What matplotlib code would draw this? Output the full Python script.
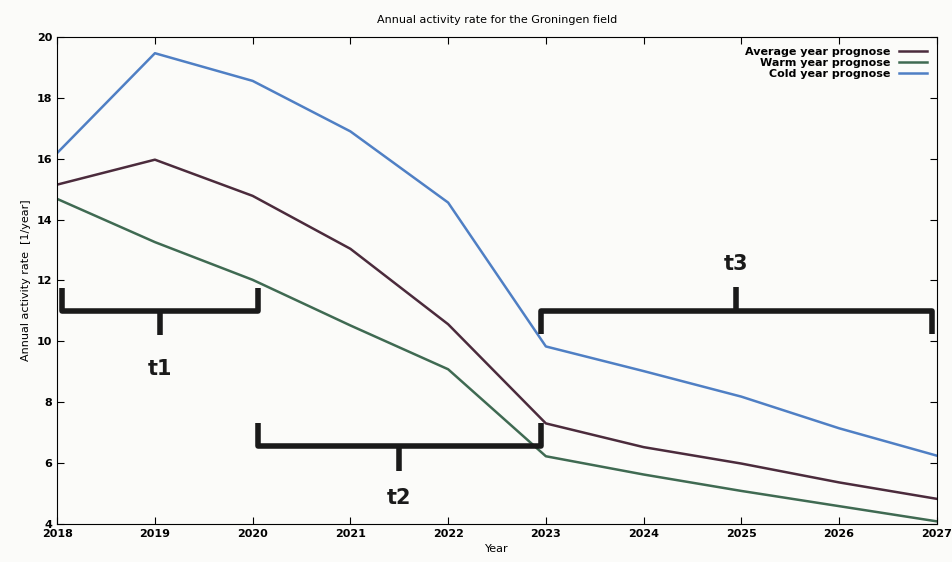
import matplotlib.pyplot as plt

years = [2018, 2019, 2020, 2021, 2022, 2023, 2024, 2025, 2026, 2027]
average = [15.15, 15.97, 14.78, 13.04, 10.56, 7.3, 6.52, 5.98, 5.36, 4.82]
warm = [14.68, 13.26, 12.02, 10.52, 9.08, 6.22, 5.62, 5.08, 4.58, 4.08]
cold = [16.19, 19.47, 18.56, 16.9, 14.56, 9.83, 9.02, 8.18, 7.14, 6.24]

# brace annotations: (x_start, x_end, y_bar, tip direction, label y)
braces = {
    't1': (2018.05, 2020.05, 11.0, -1, 9.1),
    't2': (2020.05, 2022.95, 6.55, -1, 4.85),
    't3': (2022.95, 2026.95, 11.0, 1, 12.55),
}

fig = plt.figure(figsize=(9.53, 5.62), dpi=100)
fig.patch.set_facecolor('#fbfbf9')
ax = fig.add_axes([0.06, 0.068, 0.923, 0.866])
ax.set_facecolor('#fbfbf9')

ax.plot(years, average, color='#4b2b3c', lw=1.8, label='Average year prognose')
ax.plot(years, warm, color='#3f6a52', lw=1.8, label='Warm year prognose')
ax.plot(years, cold, color='#4f7fc4', lw=1.8, label='Cold year prognose')

for name, (x0, x1, yb, d, ly) in braces.items():
    xm = (x0 + x1) / 2
    h = 0.75
    ax.plot([x0, x0, x1, x1], [yb - d * h, yb, yb, yb - d * h], color='#1a1a1a', lw=4,
            solid_joinstyle='round', solid_capstyle='butt')
    ax.plot([xm, xm], [yb, yb + d * 0.8], color='#1a1a1a', lw=4, solid_capstyle='butt')
    ax.text(xm, ly, name, ha='center', va='center', fontsize=15, fontweight='bold',
            color='#1a1a1a')

ax.set_xlim(2018, 2027)
ax.set_ylim(4, 20)
ax.set_xticks(years)
ax.set_yticks(range(4, 21, 2))
ax.tick_params(direction='in', top=True, right=True, length=5, labelsize=8)
for lab in ax.get_xticklabels() + ax.get_yticklabels():
    lab.set_fontweight('bold')
ax.set_title('Annual activity rate for the Groningen field', fontsize=8, pad=10)
ax.set_xlabel('Year', fontsize=8, labelpad=4)
ax.set_ylabel('Annual activity rate  [1/year]', fontsize=8)
ax.legend(loc='upper right', frameon=False, markerfirst=False,
          handlelength=2.5, labelspacing=0.1, prop={'weight': 'bold', 'size': 8})

fig.savefig('out.png', dpi=100, facecolor=fig.get_facecolor())
